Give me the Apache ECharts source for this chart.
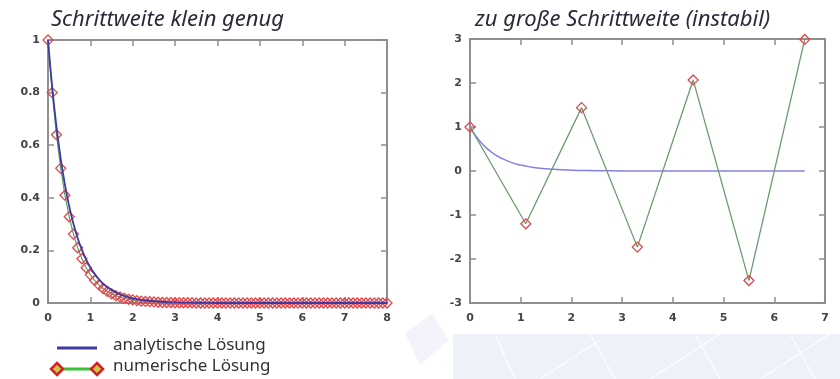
<!DOCTYPE html>
<html><head><meta charset="utf-8">
<script src="https://cdn.jsdelivr.net/npm/echarts@6/dist/echarts.min.js"></script>
<style>html,body{margin:0;padding:0;background:#fff}#c{width:840px;height:379px}</style>
</head><body><div id="c"></div>
<script>
// Left: small step (h = 0.1)
var leftNumX = [0,0.1,0.2,0.3,0.4,0.5,0.6,0.7,0.8,0.9,1,1.1,1.2,1.3,1.4,1.5,1.6,1.7,1.8,1.9,2,
 2.1,2.2,2.3,2.4,2.5,2.6,2.7,2.8,2.9,3,3.1,3.2,3.3,3.4,3.5,3.6,3.7,3.8,3.9,4,
 4.1,4.2,4.3,4.4,4.5,4.6,4.7,4.8,4.9,5,5.1,5.2,5.3,5.4,5.5,5.6,5.7,5.8,5.9,6,
 6.1,6.2,6.3,6.4,6.5,6.6,6.7,6.8,6.9,7,7.1,7.2,7.3,7.4,7.5,7.6,7.7,7.8,7.9,8];
var leftNumY = [1,0.8,0.64,0.512,0.41,0.328,0.262,0.21,0.168,0.134,0.107,0.086,0.069,0.055,0.044,0.035,0.028,0.023,0.018,0.014,0.012,
 0.009,0.007,0.006,0.005,0.004,0.003,0.002,0.002,0.002,0.001,0.001,0.001,0.001,0.001,0,0,0,0,0,0,
 0,0,0,0,0,0,0,0,0,0,0,0,0,0,0,0,0,0,0,0,
 0,0,0,0,0,0,0,0,0,0,0,0,0,0,0,0,0,0,0,0];
var leftAnaX = [0,0.1,0.2,0.3,0.4,0.5,0.6,0.7,0.8,0.9,1,1.1,1.2,1.3,1.4,1.5,1.6,1.7,1.8,1.9,2,2.25,2.5,3,3.5,4,5,6,7,8];
var leftAnaY = [1,0.819,0.670,0.549,0.449,0.368,0.301,0.247,0.202,0.165,0.135,0.111,0.091,0.074,0.061,0.050,0.041,0.033,0.027,0.022,0.018,0.011,0.007,0.002,0.001,0,0,0,0,0];
// Right: too large step (h = 1.1)
var rightNumX = [0,1.1,2.2,3.3,4.4,5.5,6.6];
var rightNumY = [1,-1.2,1.44,-1.73,2.07,-2.49,2.99];
var rightAnaX = [0,0.1,0.2,0.3,0.4,0.5,0.6,0.8,1.0,1.2,1.5,2,2.5,3,4,5,6,6.6];
var rightAnaY = [1,0.819,0.670,0.549,0.449,0.368,0.301,0.202,0.135,0.091,0.050,0.018,0.007,0.002,0,0,0,0];
var leftXTicks = [0,1,2,3,4,5,6,7,8];
var leftYTicks = [0,0.2,0.4,0.6,0.8,1];
var rightXTicks = [0,1,2,3,4,5,6,7];
var rightYTicks = [-3,-2,-1,0,1,2,3];
var titles = ['Schrittweite klein genug','zu große Schrittweite (instabil)'];
var legendNames = ['analytische Lösung','numerische Lösung'];

function zip(a,b){return a.map(function(v,i){return [v,b[i]];});}
var axisColor = '#8f8f8f';
var labelStyle = {color:'#444', fontSize:11, fontFamily:'DejaVu Sans', fontWeight:'bold'};
function xAx(grid, min, max, pos, show){
  return {type:'value', gridIndex:grid, min:min, max:max, interval:1, position:pos,
    axisLine:{show:true, onZero:false, lineStyle:{color:axisColor, width:2}},
    axisTick:{show:true, inside:true, length:6, lineStyle:{color:axisColor, width:1.5}},
    axisLabel:Object.assign({show:show, margin:10}, labelStyle),
    splitLine:{show:false}};
}
function yAx(grid, min, max, iv, pos, show){
  return {type:'value', gridIndex:grid, min:min, max:max, interval:iv, position:pos,
    axisLine:{show:true, onZero:false, lineStyle:{color:axisColor, width:2}},
    axisTick:{show:true, inside:true, length:6, lineStyle:{color:axisColor, width:1.5}},
    axisLabel:Object.assign({show:show, margin:8}, labelStyle),
    splitLine:{show:false}};
}
var diamond = {symbol:'diamond', symbolSize:10, itemStyle:{color:'rgba(255,255,255,0)', borderColor:'#e0474c', borderWidth:1.3}};
var titleStyle = {fontFamily:'Noto Sans', fontStyle:'italic', fontWeight:'normal', fontSize:22, color:'#2a2a3a'};

var bg = '#eef0fa';
var chart = echarts.init(document.getElementById('c'), null, {renderer:'canvas'});
chart.setOption({
  backgroundColor:'#ffffff',
  animation:false,
  title:[
    {text:titles[0], left:46, top:4, textStyle:titleStyle},
    {text:titles[1], left:470, top:4, textStyle:titleStyle}
  ],
  grid:[
    {left:48, right:453, top:40, bottom:76},
    {left:470, right:15, top:39, bottom:76}
  ],
  xAxis:[xAx(0,0,8,'bottom',true), xAx(0,0,8,'top',false), xAx(1,0,7,'bottom',true), xAx(1,0,7,'top',false)],
  yAxis:[yAx(0,0,1,0.2,'left',true), yAx(0,0,1,0.2,'right',false), yAx(1,-3,3,1,'left',true), yAx(1,-3,3,1,'right',false)],
  series:[
    Object.assign({type:'line', name:legendNames[1], xAxisIndex:0, yAxisIndex:0, data:zip(leftNumX,leftNumY),
      lineStyle:{color:'#5aa05a', width:1.2}, z:2}, diamond),
    {type:'line', name:legendNames[0], xAxisIndex:0, yAxisIndex:0, data:zip(leftAnaX,leftAnaY), smooth:true,
      showSymbol:false, lineStyle:{color:'#3d3aa6', width:1.8}, z:3},
    {type:'line', name:legendNames[0], xAxisIndex:2, yAxisIndex:2, data:zip(rightAnaX,rightAnaY), smooth:true,
      showSymbol:false, lineStyle:{color:'#8282e6', width:1.5}, z:2},
    Object.assign({type:'line', name:legendNames[1], xAxisIndex:2, yAxisIndex:2, data:zip(rightNumX,rightNumY),
      lineStyle:{color:'#6f9a6f', width:1.3}, z:3}, diamond)
  ],
  graphic:[
    {type:'group', z:-10, silent:true, children:[
      {type:'rect', shape:{x:453,y:334,width:387,height:45}, style:{fill:bg}},
      {type:'polygon', shape:{points:[[405,333],[432,314],[449,340],[420,365]]}, style:{fill:'#f2f3fb'}},
      {type:'line', shape:{x1:495,y1:334,x2:515,y2:379}, style:{stroke:'#fff', lineWidth:1.2}},
      {type:'line', shape:{x1:590,y1:334,x2:615,y2:379}, style:{stroke:'#fff', lineWidth:1.2}},
      {type:'line', shape:{x1:695,y1:334,x2:720,y2:379}, style:{stroke:'#fff', lineWidth:1.2}},
      {type:'line', shape:{x1:790,y1:334,x2:815,y2:379}, style:{stroke:'#fff', lineWidth:1.2}},
      {type:'line', shape:{x1:540,y1:379,x2:600,y2:340}, style:{stroke:'#fff', lineWidth:1.2}},
      {type:'line', shape:{x1:650,y1:379,x2:720,y2:334}, style:{stroke:'#fff', lineWidth:1.2}},
      {type:'line', shape:{x1:760,y1:379,x2:830,y2:334}, style:{stroke:'#fff', lineWidth:1.2}}
    ]},
    {type:'line', shape:{x1:57,y1:348,x2:97,y2:348}, style:{stroke:'#3d3aa6', lineWidth:3}},
    {type:'text', left:113, top:337, style:{text:legendNames[0], font:'17px "Noto Sans"', fill:'#333'}},
    {type:'line', shape:{x1:57,y1:369,x2:97,y2:369}, style:{stroke:'#3cc03c', lineWidth:3}},
    {type:'polygon', shape:{points:[[57,363],[63,369],[57,375],[51,369]]}, style:{fill:'#c8c84a', stroke:'#d42020', lineWidth:2.5}},
    {type:'polygon', shape:{points:[[97,363],[103,369],[97,375],[91,369]]}, style:{fill:'#c8c84a', stroke:'#d42020', lineWidth:2.5}},
    {type:'text', left:113, top:358, style:{text:legendNames[1], font:'17px "Noto Sans"', fill:'#333'}}
  ]
});
</script></body></html>
